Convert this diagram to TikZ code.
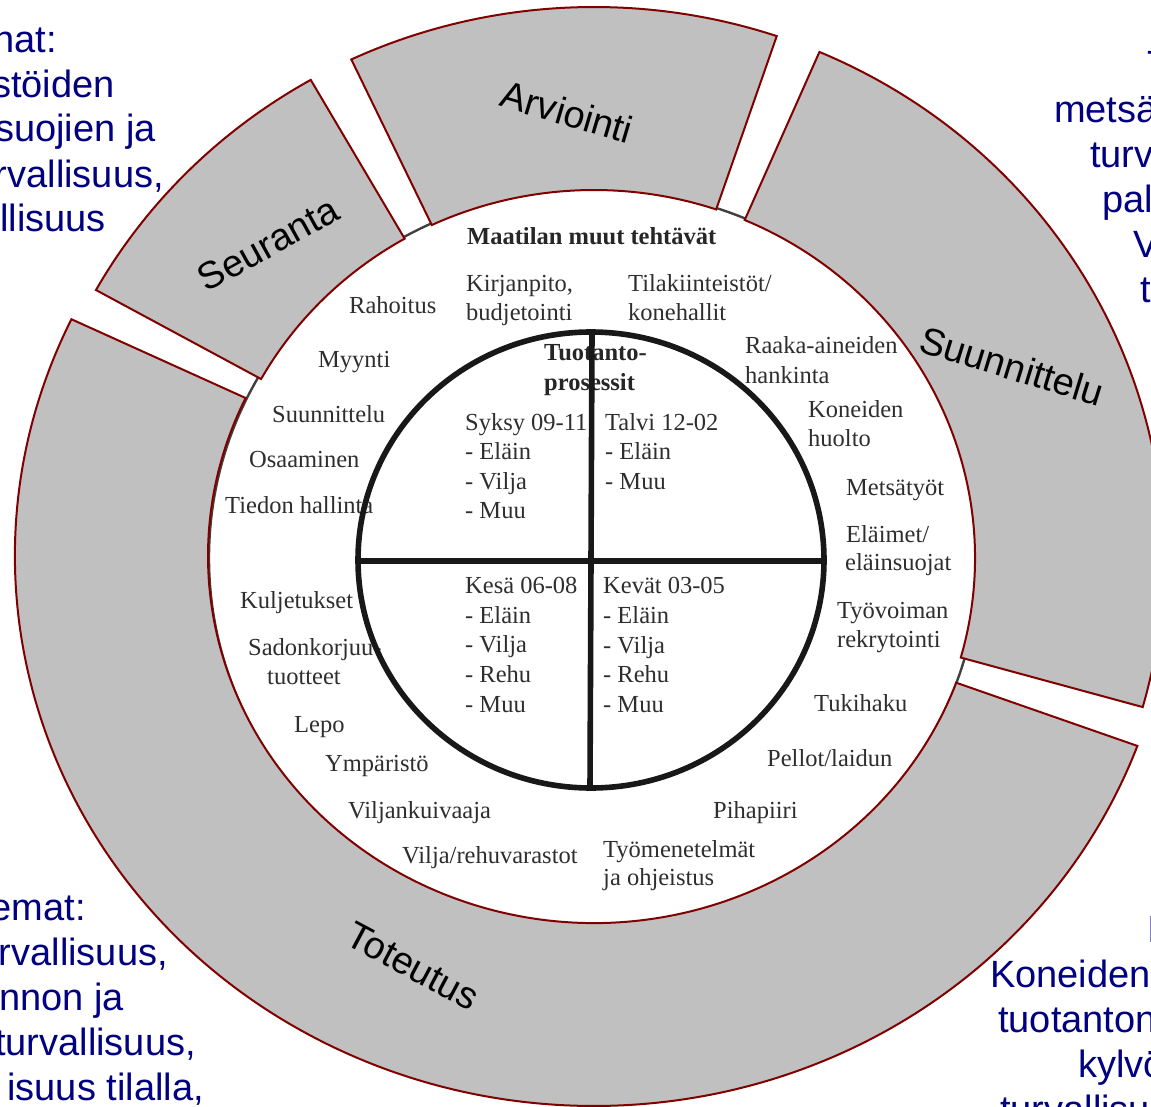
\documentclass[tikz,border=0pt]{standalone}
\usepackage{fontspec}
\setmainfont{Liberation Serif}
\newfontfamily\arialf{Liberation Sans}
\usetikzlibrary{calc}
\definecolor{segGray}{HTML}{C0C0C0}
\definecolor{segRed}{HTML}{800000}
\definecolor{navyText}{HTML}{000080}
\definecolor{innerText}{HTML}{2E2E2E}
\definecolor{lineBlack}{HTML}{181818}
\newcommand\ringseg[7]{%
  \draw[seg] ($(#1)+(#2:#4 and #5)$) arc[start angle=#2, end angle=#3, x radius=#4, y radius=#5]
    -- ($(#1)+(#3:#6 and #7)$) arc[start angle=#3, end angle=#2, x radius=#6, y radius=#7] -- cycle;}
\begin{document}
\begin{tikzpicture}[x=1pt,y=-1pt,
  seg/.style={fill=segGray, draw=segRed, line width=2pt},
  disk/.style={fill=white, draw=black!75, line width=2.4pt},
  prod/.style={draw=lineBlack, line width=5.6pt},
  seglabel/.style={font=\arialf\fontsize{38pt}{40pt}\selectfont, text=black, inner sep=0pt},
  bluetxt/.style={font=\arialf\fontsize{38pt}{45pt}\selectfont, text=navyText, inner sep=0pt},
  intxt/.style={font=\fontsize{24.5pt}{29.5pt}\selectfont, text=innerText, inner sep=0pt, anchor=base west},
  inbold/.style={font=\bfseries\fontsize{24.5pt}{29.5pt}\selectfont, text=black!85, inner sep=0pt, anchor=base west}]
\useasboundingbox (0,0) rectangle (1151,1107);
\clip (0,0) rectangle (1151,1107);
\fill[white] (0,0) rectangle (1151,1107);

\coordinate (O) at (594,558);
\coordinate (OT) at (594,556);

% white disk
\draw[disk] (O) ellipse [x radius=385pt, y radius=369pt];

% ring segments
\ringseg{O}{71.3}{115.2}{570pt}{551pt}{381pt}{368pt}
\ringseg{O}{119.8}{150.9}{570pt}{551pt}{381pt}{368pt}
\ringseg{O}{-15.7}{66.7}{570pt}{551pt}{381pt}{368pt}
\ringseg{OT}{154.5}{339.8}{579pt}{550pt}{386pt}{367pt}

% segment labels
\node[seglabel, rotate=-16.5] (arv) at (567,112) {Arviointi};
\node[seglabel, rotate=29] (seu) at (268,244) {Seuranta};
\node[seglabel, rotate=-17] (suu) at (1012,366) {Suunnittelu};
\node[seglabel, rotate=-28] (tot) at (413,966) {Toteutus};

% inner texts
\node[inbold] (mmt) at (467,245) {Maatilan muut tehtävät};
\node[intxt] (k1) at (466,292) {Kirjanpito,};
\node[intxt] (k2) at (466,320) {budjetointi};
\node[intxt] (t1) at (628,292) {Tilakiinteistöt/};
\node[intxt] (t2) at (628,320) {konehallit};
\node[intxt] (rah) at (349,313) {Rahoitus};
\node[intxt] (myy) at (318,367) {Myynti};
\node[intxt] (suun) at (272,422) {Suunnittelu};
\node[intxt] (osa) at (249,467) {Osaaminen};
\node[intxt] (tie) at (225,513) {Tiedon hallinta};
\node[intxt] (raa1) at (745,353) {Raaka-aineiden};
\node[intxt] (raa2) at (745,383) {hankinta};
\node[intxt] (kon1) at (808,417) {Koneiden};
\node[intxt] (kon2) at (808,446) {huolto};
\node[intxt] (met) at (846,495) {Metsätyöt};
\node[intxt] (ela1) at (846,542) {Eläimet/};
\node[intxt] (ela2) at (845,570) {eläinsuojat};
\node[intxt] (tyo1) at (837,618) {Työvoiman};
\node[intxt] (tyo2) at (837,647) {rekrytointi};
\node[intxt] (tuk) at (814,711) {Tukihaku};
\node[intxt] (pel) at (767,766) {Pellot/laidun};
\node[intxt] (pih) at (713,818) {Pihapiiri};
\node[intxt] (tym1) at (603,857) {Työmenetelmät};
\node[intxt] (tym2) at (603,885) {ja ohjeistus};
\node[intxt] (vre) at (402,863) {Vilja/rehuvarastot};
\node[intxt] (vku) at (348,818) {Viljankuivaaja};
\node[intxt] (ymp) at (325,771) {Ympäristö};
\node[intxt] (lep) at (294,732) {Lepo};
\node[intxt] (sad1) at (248,655) {Sadonkorjuu-};
\node[intxt] (sad2) at (267,684) {tuotteet};
\node[intxt] (kul) at (240,608) {Kuljetukset};
\node[inbold] (tp1) at (544,360) {Tuotanto-};
\node[inbold] (tp2) at (544,390) {prosessit};
\node[intxt] (sy0) at (465,430) {Syksy 09-11};
\node[intxt] (sy1) at (465,459) {- Eläin};
\node[intxt] (sy2) at (465,489) {- Vilja};
\node[intxt] (sy3) at (465,518) {- Muu};
\node[intxt] (ta0) at (605,430) {Talvi 12-02};
\node[intxt] (ta1) at (605,459) {- Eläin};
\node[intxt] (ta2) at (605,489) {- Muu};
\node[intxt] (ke0) at (465,593) {Kesä 06-08};
\node[intxt] (ke1) at (465,623) {- Eläin};
\node[intxt] (ke2) at (465,652) {- Vilja};
\node[intxt] (ke3) at (465,682) {- Rehu};
\node[intxt] (ke4) at (465,712) {- Muu};
\node[intxt] (kv0) at (603,593) {Kevät 03-05};
\node[intxt] (kv1) at (603,623) {- Eläin};
\node[intxt] (kv2) at (603,653) {- Vilja};
\node[intxt] (kv3) at (603,682) {- Rehu};
\node[intxt] (kv4) at (603,712) {- Muu};

% production circle and cross
\coordinate (PC) at (591,560);
\coordinate (ctop) at (592,333);
\coordinate (cbot) at (590,788);
\coordinate (cleft) at (358,561);
\coordinate (cright) at (824,561);
\draw[prod] (PC) ellipse [x radius=233pt, y radius=228pt];
\draw[prod] (ctop) -- (cbot);
\draw[prod] (cleft) -- (cright);

% blue text fragments, left top
\node[bluetxt, anchor=base east] (lt1) at (57,53) {nat:};
\node[bluetxt, anchor=base east] (lt2) at (115,98) {stöiden};
\node[bluetxt, anchor=base east] (lt3) at (156,142) {suojien ja};
\node[bluetxt, anchor=base east] (lt4) at (164,188) {rvallisuus,};
\node[bluetxt, anchor=base east] (lt5) at (106,232) {llisuus};
% left bottom
\node[bluetxt, anchor=base east] (lb1) at (86,920) {emat:};
\node[bluetxt, anchor=base east] (lb2) at (168,965) {rvallisuus,};
\node[bluetxt, anchor=base east] (lb3) at (124,1010) {nnon ja};
\node[bluetxt, anchor=base east] (lb4) at (196,1055) {turvallisuus,};
\node[bluetxt, anchor=base east] (lb5) at (204,1100) {isuus tilalla,};
% right top
\node[bluetxt, anchor=base west] (rt1) at (1147,78) {T};
\node[bluetxt, anchor=base west] (rt2) at (1054,123) {metsä};
\node[bluetxt, anchor=base west] (rt3) at (1090,168) {turv};
\node[bluetxt, anchor=base west] (rt4) at (1102,213) {pal};
\node[bluetxt, anchor=base west] (rt5) at (1133,258) {V};
\node[bluetxt, anchor=base west] (rt6) at (1140,302) {t};
% right bottom
\node[bluetxt, anchor=base west] (rb1) at (1147,942) {I};
\node[bluetxt, anchor=base west] (rb2) at (990,987) {Koneiden};
\node[bluetxt, anchor=base west] (rb3) at (998,1032) {tuotanton};
\node[bluetxt, anchor=base west] (rb4) at (1078,1077) {kylvö};
\node[bluetxt, anchor=base west] (rb5) at (1000,1122) {turvallisu};
\end{tikzpicture}
\end{document}
